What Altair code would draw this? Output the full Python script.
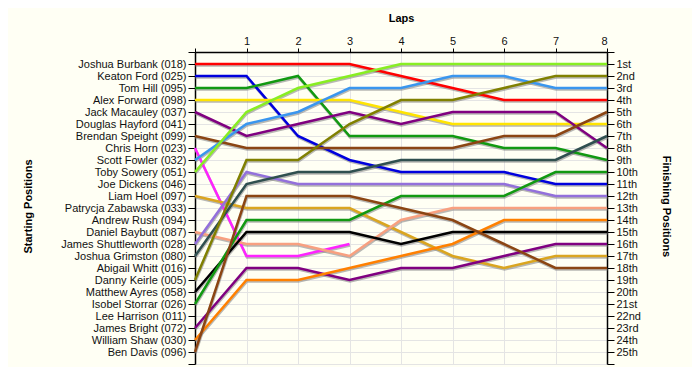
import json
import altair as alt
import pandas as pd

start_names = [
    "Joshua Burbank (018)", "Keaton Ford (025)", "Tom Hill (095)", "Alex Forward (098)",
    "Jack Macauley (037)", "Douglas Hayford (041)", "Brendan Speight (099)", "Chris Horn (023)",
    "Scott Fowler (032)", "Toby Sowery (051)", "Joe Dickens (046)", "Liam Hoel (097)",
    "Patrycja Zabawska (033)", "Andrew Rush (094)", "Daniel Baybutt (087)",
    "James Shuttleworth (028)", "Joshua Grimston (080)", "Abigail Whitt (016)",
    "Danny Keirle (005)", "Matthew Ayres (058)", "Isobel Storrar (026)", "Lee Harrison (011)",
    "James Bright (072)", "William Shaw (030)", "Ben Davis (096)",
]
finish_labels = [
    "1st", "2nd", "3rd", "4th", "5th", "6th", "7th", "8th", "9th", "10th", "11th", "12th",
    "13th", "14th", "15th", "16th", "17th", "18th", "19th", "20th", "21st", "22nd", "23rd",
    "24th", "25th",
]
lap_labels = ["", "1", "2", "3", "4", "5", "6", "7", "8"]

# positions by lap (lap 0 = grid)
burbank = [1, 1, 1, 1, 2, 3, 4, 4, 4]
ford = [2, 2, 7, 9, 10, 10, 10, 11, 11]
hill = [3, 3, 2, 7, 7, 7, 8, 8, 9]
forward = [4, 4, 4, 4, 5, 6, 6, 6, 6]
macauley = [5, 7, 6, 5, 6, 5, 5, 5, 8]
speight = [7, 8, 8, 8, 8, 8, 7, 7, 5]
horn = [8, 17, 17, 16]
fowler = [9, 6, 5, 3, 3, 2, 2, 3, 3]
sowery = [10, 5, 3, 2, 1, 1, 1, 1, 1]
hoel = [12, 13, 13, 13, 15, 17, 18, 17, 17]
baybutt = [15, 16, 16, 17, 14, 13, 13, 13, 13]
shuttleworth = [16, 10, 11, 11, 11, 11, 11, 12, 12]
grimston = [17, 11, 10, 10, 9, 9, 9, 9, 7]
keirle = [19, 9, 9, 6, 4, 4, 3, 2, 2]
ayres = [20, 15, 15, 15, 16, 15, 15, 15, 15]
storrar = [21, 14, 14, 14, 12, 12, 12, 10, 10]
bright = [23, 18, 18, 19, 18, 18, 17, 16, 16]
shaw = [24, 19, 19, 18, 17, 16, 14, 14, 14]
davis = [25, 12, 12, 12, 13, 14, 16, 18, 18]

driver_order = [
    "Joshua Burbank (018)", "Keaton Ford (025)", "Tom Hill (095)", "Alex Forward (098)",
    "Jack Macauley (037)", "Brendan Speight (099)", "Chris Horn (023)", "Scott Fowler (032)",
    "Toby Sowery (051)", "Liam Hoel (097)", "Daniel Baybutt (087)", "James Shuttleworth (028)",
    "Joshua Grimston (080)", "Danny Keirle (005)", "Matthew Ayres (058)",
    "Isobel Storrar (026)", "James Bright (072)", "William Shaw (030)", "Ben Davis (096)",
]
driver_positions = [
    burbank, ford, hill, forward, macauley, speight, horn, fowler, sowery, hoel, baybutt,
    shuttleworth, grimston, keirle, ayres, storrar, bright, shaw, davis,
]
driver_colors = [
    "#ff0000", "#0000dd", "#119911", "#ffe400", "#800080", "#8b4513", "#ff22ff", "#3a96ee",
    "#88ee22", "#daa520", "#f8a080", "#9370db", "#2f4f4f", "#808000", "#000000", "#119911",
    "#800080", "#ff8000", "#8b4513",
]

rows = []
for name, positions in zip(driver_order, driver_positions):
    for lap, pos in enumerate(positions):
        rows.append({"driver": name, "lap": lap, "pos": pos})
df = pd.DataFrame(rows)

left_expr = json.dumps([""] + start_names + [""]) + "[datum.value]"
right_expr = json.dumps([""] + finish_labels + [""]) + "[datum.value]"
top_expr = json.dumps(lap_labels) + "[datum.value]"

FONT = "Liberation Sans"

x_enc = alt.X(
    "lap:Q",
    scale=alt.Scale(domain=[0, 8], nice=False, zero=False),
    axis=alt.Axis(
        orient="top", values=list(range(9)), labelExpr=top_expr, tickSize=4,
        labelPadding=2, title="Laps", titleFontWeight="bold", titleFontSize=11,
        titleFont=FONT, titleY=-34, titleBaseline="middle", labelFont=FONT,
        labelFontSize=11, labelColor="#111111", grid=True, gridColor="#e4e4e4",
        domainColor="#000000", domainWidth=1.5, tickColor="#000000", labelAngle=0,
    ),
)

y_scale = alt.Scale(domain=[0, 26], reverse=True, nice=False, zero=False)

shadow = alt.Chart(df).mark_line(
    color="#888888", strokeWidth=2.5, opacity=0.6, yOffset=1.5, xOffset=0.5
).encode(
    x=x_enc,
    y=alt.Y(
        "pos:Q", scale=y_scale,
        axis=alt.Axis(
            orient="right", values=list(range(27)), labelExpr=right_expr, tickSize=7,
            labelPadding=2, grid=False, title="Finishing Positions", titleAngle=90,
            titleX=58, titleY=154, titleAlign="center", titleBaseline="middle",
            titleFontWeight="bold", titleFontSize=11, titleFont=FONT, labelFont=FONT,
            labelFontSize=11, labelColor="#111111", domainColor="#000000",
            domainWidth=1.5, tickColor="#000000",
        ),
    ),
    detail="driver:N",
    order="lap:Q",
)

lines = alt.Chart(df).mark_line(strokeWidth=2.5).encode(
    x=x_enc,
    y=alt.Y(
        "pos:Q", scale=y_scale,
        axis=alt.Axis(
            orient="left", values=list(range(27)), labelExpr=left_expr, tickSize=7,
            labelPadding=2, grid=True, gridColor="#e4e4e4", title="Starting Positions",
            titleAngle=-90, titleX=-167, titleY=154, titleAlign="center",
            titleBaseline="middle", titleFontWeight="bold", titleFontSize=11,
            titleFont=FONT, labelFont=FONT, labelFontSize=11, labelColor="#111111",
            domainColor="#000000", domainWidth=1.5, tickColor="#000000",
        ),
    ),
    color=alt.Color(
        "driver:N", scale=alt.Scale(domain=driver_order, range=driver_colors), legend=None
    ),
    detail="driver:N",
    order="lap:Q",
)

chart = (
    alt.layer(shadow, lines)
    .resolve_scale(y="independent")
    .properties(
        width=412, height=312,
        autosize=alt.AutoSizeParams(type="none"),
        padding={"left": 187, "top": 44, "right": 85, "bottom": 3},
        background="#fffff4",
    )
    .configure_view(strokeWidth=0)
)

chart.save("out.html", embed_options={"renderer": "svg", "actions": False})
